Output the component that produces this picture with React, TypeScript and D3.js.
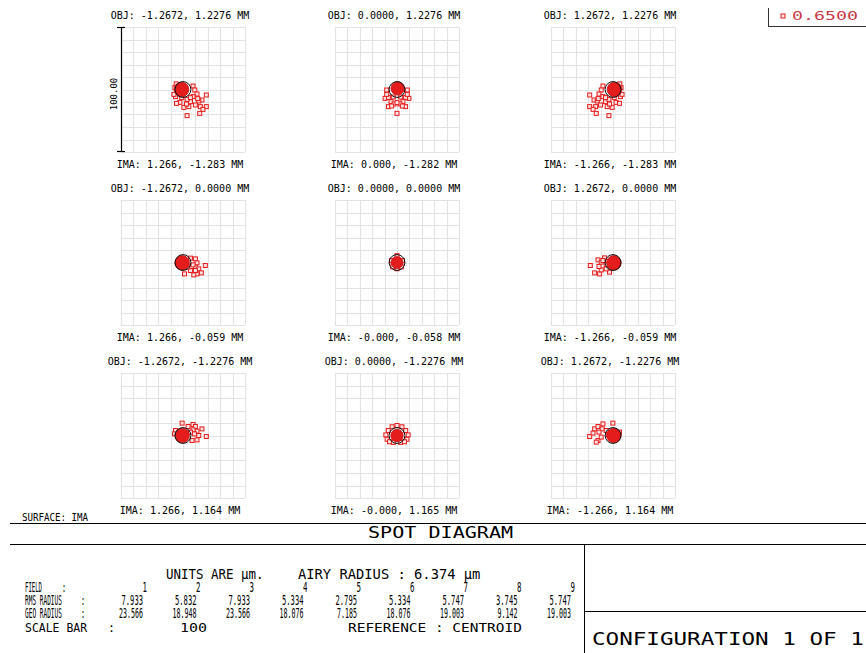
import React from 'react';
import * as d3 from 'd3';

const WIDTH = 866;
const HEIGHT = 653;

const FIELDS = [1, 2, 3, 4, 5, 6, 7, 8, 9];
const OBJ_LABELS = [
  'OBJ: -1.2672, 1.2276 MM', 'OBJ: 0.0000, 1.2276 MM', 'OBJ: 1.2672, 1.2276 MM',
  'OBJ: -1.2672, 0.0000 MM', 'OBJ: 0.0000, 0.0000 MM', 'OBJ: 1.2672, 0.0000 MM',
  'OBJ: -1.2672, -1.2276 MM', 'OBJ: 0.0000, -1.2276 MM', 'OBJ: 1.2672, -1.2276 MM',
];
const IMA_LABELS = [
  'IMA: 1.266, -1.283 MM', 'IMA: 0.000, -1.282 MM', 'IMA: -1.266, -1.283 MM',
  'IMA: 1.266, -0.059 MM', 'IMA: -0.000, -0.058 MM', 'IMA: -1.266, -0.059 MM',
  'IMA: 1.266, 1.164 MM', 'IMA: -0.000, 1.165 MM', 'IMA: -1.266, 1.164 MM',
];
const RMS_RADIUS = ['7.933', '5.832', '7.933', '5.334', '2.795', '5.334', '5.747', '3.745', '5.747'];
const GEO_RADIUS = ['23.566', '18.948', '23.566', '18.076', '7.185', '18.076', '19.003', '9.142', '19.003'];
const AIRY_RADIUS = 6.374;
const SCALE_BAR = 100;
const WAVELENGTH = '0.6500';

// dense core of each spot (µm)
const CORE_RADIUS = [5.9, 5.4, 5.9, 5.9, 4.8, 5.9, 5.9, 5.0, 5.9];
const CORE_X = [-1.2, 0.5, 1.2, -0.7, 0, 0.7, -0.7, 0, 0.7];
const CORE_Y = [0, 0.9, 0, -0.3, 0, -0.3, 0, 0, 0];

// individual ray hits (µm, relative to centroid, y up)
const SPOTS_F1 = [[8.1, 2.8], [9.5, -0.4], [11.3, -3.6], [8.1, -5.7], [18.8, -4.4], [15.3, -8.4], [12.7, -9.2], [6.0, -9.7], [10.0, -12.4], [14.0, -13.7], [18.8, -13.7], [16.1, -15.9], [4.7, -13.7], [0.7, -14.3], [-2.5, -10.3], [-5.2, -11.1], [3.3, -7.9], [6.0, -6.5], [13.5, -19.1], [3.3, -20.9], [-6.0, -5.7], [-7.3, -3.9], [11.9, -7.3], [2.8, -11.6], [-6.5, 1.5], [-5.5, 4.5], [-1.0, -6.5]];
const SPOTS_F2 = [[-8.3, -0.4], [8.3, -0.4], [-9.6, -7.1], [9.6, -7.1], [-6.9, -6.3], [6.9, -6.3], [-4.8, -9.7], [4.8, -9.7], [-6.9, -13.7], [6.9, -13.7], [-2.4, -11.6], [2.4, -11.6], [0, -10.5], [0, -19.1], [-8.3, -3.9], [8.3, -3.9], [-4.3, -13.2], [4.3, -13.2], [-3.0, -6.0], [3.0, -6.0]];
const SPOTS_F3 = [[-8.1, 2.8], [-9.5, -0.4], [-11.3, -3.6], [-8.1, -5.7], [-18.8, -4.4], [-15.3, -8.4], [-12.7, -9.2], [-6.0, -9.7], [-10.0, -12.4], [-14.0, -13.7], [-18.8, -13.7], [-16.1, -15.9], [-4.7, -13.7], [-0.7, -14.3], [2.5, -10.3], [5.2, -11.1], [-3.3, -7.9], [-6.0, -6.5], [-13.5, -19.1], [-3.3, -20.9], [6.0, -5.7], [7.3, -3.9], [-11.9, -7.3], [-2.8, -11.6], [6.5, 1.5], [5.5, 4.5], [1.0, -6.5]];
const SPOTS_F4 = [[6.0, 3.5], [10.0, 2.9], [11.3, -0.3], [10.0, -3.7], [12.7, -5.1], [18.0, -2.4], [14.8, -8.3], [11.3, -9.1], [8.7, -9.9], [1.2, -9.1], [6.0, -6.4], [3.9, -3.7], [10.0, -6.4], [8.1, -1.9]];
const SPOTS_F5 = [[-4.5, 1.5], [4.5, 1.5], [0, -5.0], [-3.5, -3.5], [3.5, -3.5], [0, 5.5]];
const SPOTS_F6 = [[-18.3, -2.4], [-14.8, -8.3], [-10.8, -9.1], [-9.5, -5.9], [-11.3, -3.2], [-12.1, 2.1], [-6.8, 3.7], [-9.5, 0.3], [-5.5, -1.6], [-2.8, -7.7], [-5.5, -5.1], [-8.1, 1.6]];
const SPOTS_F7 = [[-0.7, 9.9], [4.1, 7.2], [8.1, 8.8], [10.0, 7.2], [15.3, 5.3], [11.3, 3.5], [8.1, 4.5], [9.2, 1.3], [12.7, 0], [18.8, -0.8], [11.3, -3.5], [7.3, -4.0], [-6.0, 4.0], [-6.8, 1.3], [6.0, 2.7]];
const SPOTS_F8 = [[-7, 4], [7, 4], [-9, 0.5], [9, 0.5], [-8, -3], [8, -3], [-4, 7], [4, 7], [-3, -5.5], [3, -5.5], [0, 8], [-6, -5], [6, -5]];
const SPOTS_F9 = [[-18.8, -0.8], [-14.8, 5.3], [-16.1, 1.9], [-12.1, 7.2], [-8.1, 9.3], [-8.7, 5.3], [-11.3, 2.7], [-5.5, 4.0], [-0.1, 9.9], [-4.1, 0.8], [-12.1, -4.0], [-13.5, -5.3], [-9.5, -1.3], [5.2, 2.7]];
const SPOTS = [SPOTS_F1, SPOTS_F2, SPOTS_F3, SPOTS_F4, SPOTS_F5, SPOTS_F6, SPOTS_F7, SPOTS_F8, SPOTS_F9];

const GRID_TICKS = [-50, -40, -30, -20, -10, 0, 10, 20, 30, 40, 50];

const COL_X = [121, 335, 551];
const ROW_Y = [27, 200, 373];
const BOX_W = 124;
const BOX_H = 125;

const MONO = '"DejaVu Sans Mono", "Liberation Mono", monospace';
const RED = '#e41c1c';
const ADV = 0.602; // DejaVu Sans Mono advance per em

function SpotPlot({ i }: { i: number }) {
  const col = i % 3;
  const row = Math.floor(i / 3);
  const x0 = COL_X[col];
  const y0 = ROW_Y[row];
  const xs = d3.scaleLinear().domain([-SCALE_BAR / 2, SCALE_BAR / 2]).range([x0, x0 + BOX_W]);
  const ys = d3.scaleLinear().domain([-SCALE_BAR / 2, SCALE_BAR / 2]).range([y0 + BOX_H, y0]);
  const pxPerUm = xs(1) - xs(0);
  const cx = x0 + BOX_W / 2;
  const sq = 4;
  return (
    <g>
      {GRID_TICKS.map((t) => (
        <line key={'v' + t} x1={Math.round(xs(t)) + 0.5} x2={Math.round(xs(t)) + 0.5} y1={y0} y2={y0 + BOX_H} stroke="#e3e3e3" strokeWidth={1.2} />
      ))}
      {GRID_TICKS.map((t) => (
        <line key={'h' + t} y1={Math.round(ys(t)) + 0.5} y2={Math.round(ys(t)) + 0.5} x1={x0} x2={x0 + BOX_W} stroke="#e3e3e3" strokeWidth={1.2} />
      ))}
      {SPOTS[i].map((p, k) => (
        <rect key={k} x={xs(p[0]) - sq / 2} y={ys(p[1]) - sq / 2} width={sq} height={sq} fill="#fbe3e3" stroke={RED} strokeWidth={1} />
      ))}
      <circle cx={xs(CORE_X[i])} cy={ys(CORE_Y[i])} r={CORE_RADIUS[i] * pxPerUm} fill={RED} stroke="#c01616" strokeWidth={0.8} />
      <circle cx={xs(0)} cy={ys(0)} r={AIRY_RADIUS * pxPerUm} fill="none" stroke="#111" strokeWidth={1} />
      <text x={cx - 3} y={y0 - 7.7} textAnchor="middle" fontFamily={MONO} fontSize={10} fill="#000">{OBJ_LABELS[i]}</text>
      <text x={cx - 3} y={y0 + BOX_H + 16} textAnchor="middle" fontFamily={MONO} fontSize={10} fill="#000">{IMA_LABELS[i]}</text>
      {i === 0 && (
        <g>
          <line x1={x0 + 0.5} x2={x0 + 0.5} y1={y0} y2={y0 + BOX_H} stroke="#000" strokeWidth={1.2} />
          <line x1={x0 - 4} x2={x0 + 4} y1={y0 + 0.5} y2={y0 + 0.5} stroke="#000" strokeWidth={1.2} />
          <line x1={x0 - 4} x2={x0 + 4} y1={y0 + BOX_H - 0.5} y2={y0 + BOX_H - 0.5} stroke="#000" strokeWidth={1.2} />
          <text transform={`translate(${x0 - 4.5},${y0 + 67}) rotate(-90)`} textAnchor="middle" fontFamily={MONO} fontSize={9} fill="#000">{SCALE_BAR.toFixed(2)}</text>
        </g>
      )}
    </g>
  );
}

// text scaled horizontally so each character takes `cw` pixels
function Scaled({ x, y, text, cw, size = 14, anchor = 'start', fill = '#000' }: { x: number; y: number; text: string; cw: number; size?: number; anchor?: string; fill?: string }) {
  const sx = cw / (size * ADV);
  return (
    <text transform={`translate(${x},${y}) scale(${sx},1)`} textAnchor={anchor} fontFamily={MONO} fontSize={size} fill={fill}>{text}</text>
  );
}

export default function App() {
  const colStep = 53.5;
  return (
    <svg width={WIDTH} height={HEIGHT} style={{ position: 'absolute', left: 0, top: 0, background: '#fff' }}>
      {FIELDS.map((f, i) => <SpotPlot key={f} i={i} />)}

      {/* legend */}
      <line x1={768.5} x2={768.5} y1={8} y2={26} stroke="#333" strokeWidth={1} />
      <line x1={768} x2={866} y1={26.5} y2={26.5} stroke="#333" strokeWidth={1} />
      <rect x={781} y={14} width={4} height={4} fill="#fbe3e3" stroke={RED} strokeWidth={1} />
      <Scaled x={792} y={20} text={WAVELENGTH} cw={11} size={12} fill="#c83a48" />

      {/* footer frame */}
      <Scaled x={22} y={521} text="SURFACE: IMA" cw={5.5} size={10} />
      <line x1={10} x2={866} y1={523.5} y2={523.5} stroke="#000" strokeWidth={1} />
      <Scaled x={368} y={538} text="SPOT DIAGRAM" cw={12.1} size={15} />
      <line x1={10} x2={866} y1={544.5} y2={544.5} stroke="#000" strokeWidth={1} />
      <line x1={584.5} x2={584.5} y1={544.5} y2={653} stroke="#000" strokeWidth={1} />
      <line x1={584.5} x2={866} y1={611.5} y2={611.5} stroke="#000" strokeWidth={1} />
      <Scaled x={592} y={645} text="CONFIGURATION 1 OF 1" cw={13.6} size={18} />

      {/* summary */}
      <Scaled x={166} y={579} text="UNITS ARE µm." cw={7.5} size={14} />
      <Scaled x={298} y={579} text={`AIRY RADIUS : ${AIRY_RADIUS.toFixed(3)} µm`} cw={8.3} size={14} />

      <Scaled x={25} y={592} text="FIELD" cw={3.4} />
      <Scaled x={62} y={592} text=":" cw={4} />
      <Scaled x={25} y={605} text="RMS RADIUS" cw={3.7} />
      <Scaled x={81} y={605} text=":" cw={4} />
      <Scaled x={25} y={618} text="GEO RADIUS" cw={3.7} />
      <Scaled x={81} y={618} text=":" cw={4} />
      {FIELDS.map((f, i) => (
        <g key={'t' + f}>
          <Scaled x={147 + colStep * i} y={592} text={String(f)} cw={4.5} anchor="end" />
          <Scaled x={143 + colStep * i} y={605} text={RMS_RADIUS[i]} cw={4.3} anchor="end" />
          <Scaled x={143 + colStep * i} y={618} text={GEO_RADIUS[i]} cw={4.0} anchor="end" />
        </g>
      ))}
      <Scaled x={25} y={632} text="SCALE BAR" cw={6.9} size={13} />
      <Scaled x={108} y={632} text=":" cw={7} size={13} />
      <Scaled x={180} y={632} text={String(SCALE_BAR)} cw={9} size={13} />
      <Scaled x={348} y={632} text="REFERENCE  : CENTROID" cw={8.7} size={13} />
    </svg>
  );
}
